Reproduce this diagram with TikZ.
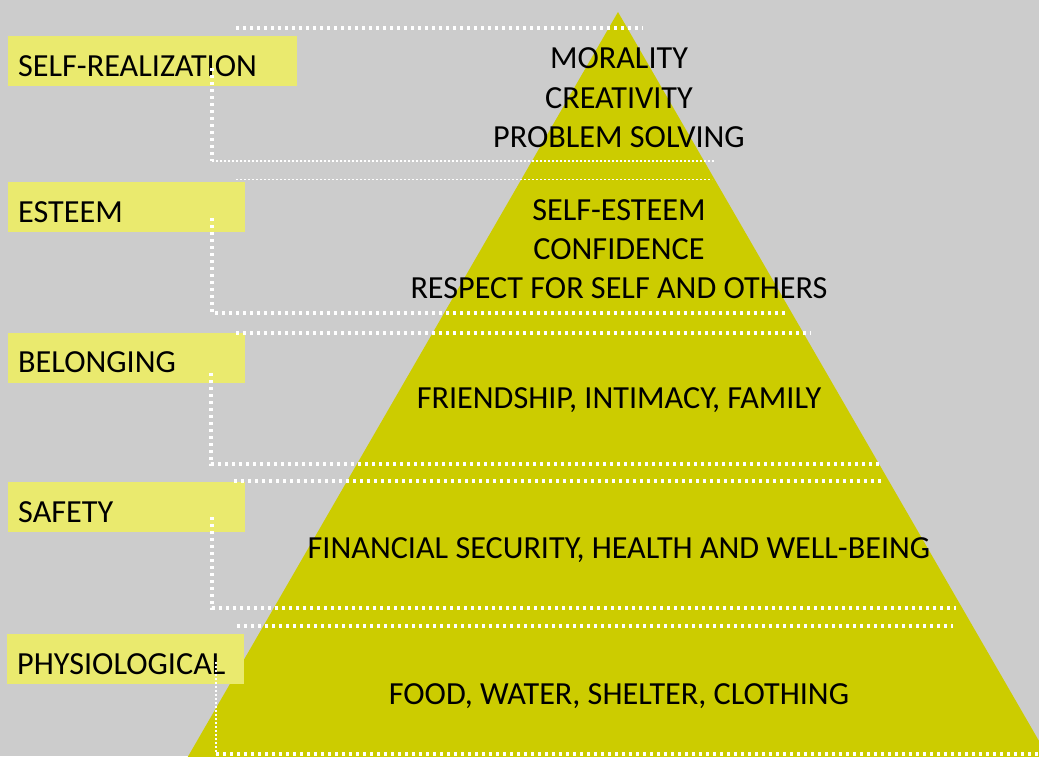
\documentclass[tikz,border=0pt]{standalone}
\usepackage{fontspec}
\setmainfont{Carlito}
\definecolor{bggray}{RGB}{204,204,204}
\definecolor{pyr}{RGB}{204,204,0}
\definecolor{lab}{RGB}{234,234,110}
\begin{document}
\begin{tikzpicture}[x=1pt,y=-1pt,
  txt/.style={anchor=base,inner sep=0pt,font=\fontsize{32.2}{39}\selectfont,text=black},
  ltxt/.style={anchor=base west,inner sep=0pt,font=\fontsize{32.2}{39}\selectfont,text=black},
  labbox/.style={fill=lab,draw=none},
  thickdot/.style={draw=white,line width=3.3pt,dash pattern=on 3.3pt off 3.7pt},
  thindot/.style={draw=white,line width=1.8pt,dash pattern=on 1.8pt off 2.2pt}]
\useasboundingbox (0,0) rectangle (1039,756);
\fill[bggray] (0,0) rectangle (1039,756);
\begin{scope}
\clip (0,0) rectangle (1039,756);
\fill[pyr] (618,12) -- (1076,805) -- (160,805) -- cycle;
\end{scope}
% label boxes
\fill[labbox] (8,36) rectangle (297,86);
\fill[labbox] (8,182) rectangle (245,232);
\fill[labbox] (8,333) rectangle (245,383);
\fill[labbox] (8,482) rectangle (245,532);
\fill[labbox] (7,634) rectangle (244,684);
\node[ltxt] (l1) at (18,76) {SELF-REALIZATION};
\node[ltxt] (l2) at (18,222) {ESTEEM};
\node[ltxt] (l3) at (18,372) {BELONGING};
\node[ltxt] (l4) at (18,522.5) {SAFETY};
\node[ltxt] (l5) at (17,674) {PHYSIOLOGICAL};
% dotted brackets
\draw[thickdot] (236,28) -- (643,28);
\draw[thickdot] (212,68) -- (212,161);
\draw[thindot] (212,161) -- (715,161);
\draw[thindot] (236,179.5) -- (712,179.5);
\draw[thickdot] (212,218) -- (212,313) -- (786,313);
\draw[thickdot] (236,333) -- (811,333);
\draw[thickdot] (211,373) -- (211,464) -- (881,464);
\draw[thickdot] (234,481) -- (882,481);
\draw[thickdot] (212,517) -- (212,608) -- (956,608);
\draw[thickdot] (237,626) -- (953,626);
\draw[thindot] (216,662) -- (216,754);
\draw[thickdot] (216,754) -- (1039,754);
% pyramid texts
\node[txt] (t1) at (619,68) {MORALITY};
\node[txt] (t2) at (619,108) {CREATIVITY};
\node[txt] (t3) at (619,147) {PROBLEM SOLVING};
\node[txt] (t4) at (619,220) {SELF-ESTEEM};
\node[txt] (t5) at (619,259) {CONFIDENCE};
\node[txt] (t6) at (619,298) {RESPECT FOR SELF AND OTHERS};
\node[txt] (t7) at (619,408) {FRIENDSHIP, INTIMACY, FAMILY};
\node[txt] (t8) at (619,558) {FINANCIAL SECURITY, HEALTH AND WELL-BEING};
\node[txt] (t9) at (619,704) {FOOD, WATER, SHELTER, CLOTHING};
\end{tikzpicture}
\end{document}
